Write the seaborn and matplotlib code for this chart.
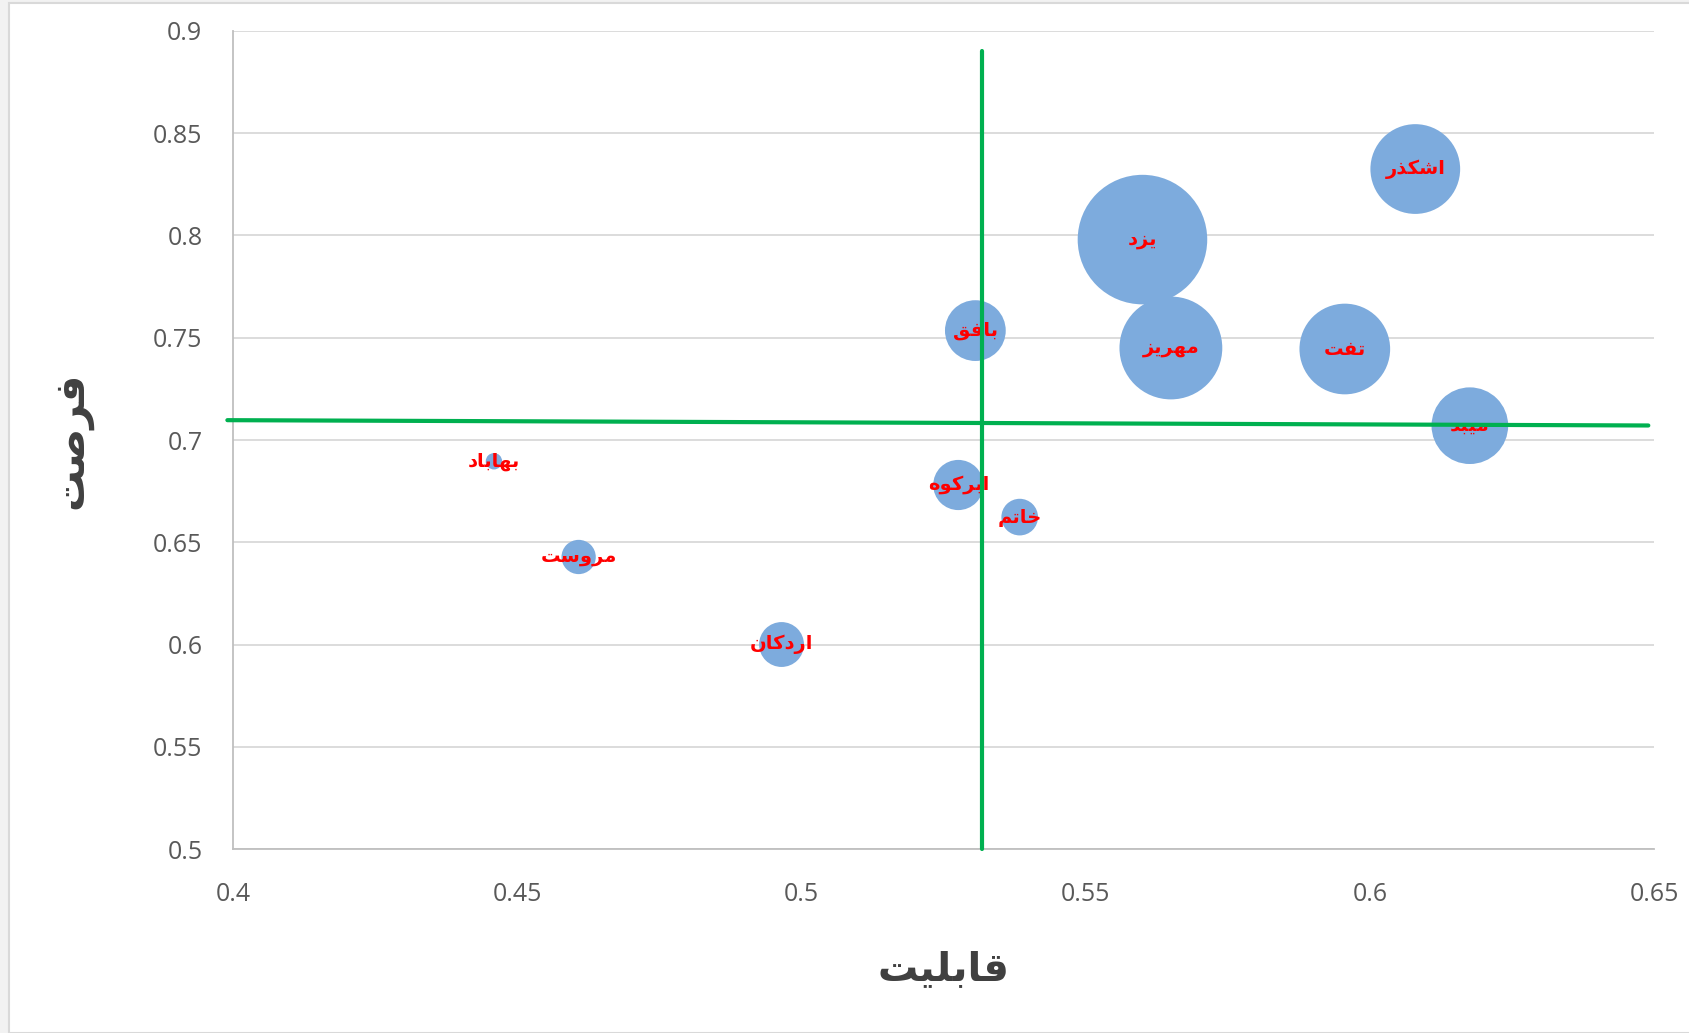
import matplotlib
matplotlib.use("Agg")
import matplotlib.pyplot as plt
import numpy as np
import pandas as pd
import seaborn as sns
from matplotlib.patches import Rectangle

# bubble data: capability (x), opportunity (y), bubble size
counties = ["یزد", "اشکذر", "مهریز", "تفت", "بافق", "میبد",
            "ابرکوه", "خاتم", "بهاباد", "مروست", "اردکان"]
capability = [0.560, 0.608, 0.565, 0.5956, 0.5306, 0.6176,
              0.5276, 0.5384, 0.4459, 0.4608, 0.4965]
opportunity = [0.798, 0.8325, 0.745, 0.7445, 0.7535, 0.707,
               0.678, 0.6623, 0.6896, 0.6428, 0.600]
bubble_size = [1.00, 0.48, 0.63, 0.49, 0.22, 0.35,
               0.15, 0.08, 0.016, 0.07, 0.12]

# green reference lines (means)
vline_x = [0.5317, 0.5317]
vline_y = [0.50, 0.89]
hline_x = [0.399, 0.649]
hline_y = [0.7097, 0.7071]

x_ticks = [0.4, 0.45, 0.5, 0.55, 0.6, 0.65]
y_ticks = [0.5, 0.55, 0.6, 0.65, 0.7, 0.75, 0.8, 0.85, 0.9]
x_title = "قابلیت"
y_title = "فرصت"

# minimal Persian shaping -> presentation forms in visual order
FORMS = {
    "ا": (0xFE8D, 0xFE8E), "د": (0xFEA9, 0xFEAA), "ذ": (0xFEAB, 0xFEAC),
    "ر": (0xFEAD, 0xFEAE), "ز": (0xFEAF, 0xFEB0), "و": (0xFEED, 0xFEEE),
    "ب": (0xFE8F, 0xFE90, 0xFE91, 0xFE92), "ت": (0xFE95, 0xFE96, 0xFE97, 0xFE98),
    "خ": (0xFEA5, 0xFEA6, 0xFEA7, 0xFEA8), "س": (0xFEB1, 0xFEB2, 0xFEB3, 0xFEB4),
    "ش": (0xFEB5, 0xFEB6, 0xFEB7, 0xFEB8), "ص": (0xFEB9, 0xFEBA, 0xFEBB, 0xFEBC),
    "ف": (0xFED1, 0xFED2, 0xFED3, 0xFED4), "ق": (0xFED5, 0xFED6, 0xFED7, 0xFED8),
    "ک": (0xFB8E, 0xFB8F, 0xFB90, 0xFB91), "ل": (0xFEDD, 0xFEDE, 0xFEDF, 0xFEE0),
    "م": (0xFEE1, 0xFEE2, 0xFEE3, 0xFEE4), "ن": (0xFEE5, 0xFEE6, 0xFEE7, 0xFEE8),
    "ه": (0xFEE9, 0xFEEA, 0xFEEB, 0xFEEC), "ی": (0xFBFC, 0xFBFD, 0xFBFE, 0xFBFF),
}


def shape(word):
    out = []
    for i, c in enumerate(word):
        prev = word[i - 1] if i > 0 else None
        nxt = word[i + 1] if i < len(word) - 1 else None
        f = FORMS[c]
        join_prev = prev is not None and len(FORMS[prev]) == 4
        join_next = len(f) == 4 and nxt is not None
        if join_prev and join_next:
            g = f[3]
        elif join_prev:
            g = f[1]
        elif join_next:
            g = f[2]
        else:
            g = f[0]
        out.append(chr(g))
    return "".join(reversed(out))


df = pd.DataFrame({"county": counties, "capability": capability,
                   "opportunity": opportunity, "size": bubble_size})

sns.set_theme(style="white")
plt.rcParams["font.family"] = ["Open Sans", "DejaVu Sans"]

fig = plt.figure(figsize=(16.9, 10.33), dpi=100, facecolor="#F2F2F2")
fig.patches.append(Rectangle((9 / 1690, 0), 1, 1 - 3 / 1033, transform=fig.transFigure,
                             facecolor="white", edgecolor="#D9D9D9", lw=1.5, zorder=-10))
ax = fig.add_axes([0.1379, 0.1781, 0.8408, 0.7919])
ax.set_facecolor("white")

sns.scatterplot(data=df, x="capability", y="opportunity", size="size",
                sizes=(0, 8700), size_norm=(0, 1.0), color="#7DABDD",
                edgecolor="none", linewidth=0, alpha=1, legend=False, ax=ax, zorder=3)

for row in df.itertuples():
    ax.text(row.capability, row.opportunity, shape(row.county), color="red",
            fontsize=14, fontweight="bold", ha="center", va="center",
            family="DejaVu Sans", zorder=4)

ax.plot(vline_x, vline_y, color="#00B050", lw=3, zorder=5, clip_on=False)
ax.plot(hline_x, hline_y, color="#00B050", lw=3, zorder=5, clip_on=False)

ax.set_xlim(0.4, 0.65)
ax.set_ylim(0.5, 0.9)
ax.set_xticks(x_ticks)
ax.set_yticks(y_ticks)
ax.set_xticklabels([f"{v:g}" for v in x_ticks])
ax.set_yticklabels([f"{v:g}" for v in y_ticks])
ax.tick_params(axis="both", length=0, labelsize=18, labelcolor="#595959")
ax.tick_params(axis="x", pad=24)
ax.tick_params(axis="y", pad=22)
ax.yaxis.grid(True, color="#D9D9D9", lw=1.3)
ax.xaxis.grid(False)
for side in ["top", "right"]:
    ax.spines[side].set_visible(False)
for side in ["left", "bottom"]:
    ax.spines[side].set_color("#BFBFBF")
    ax.spines[side].set_linewidth(1.3)

ax.set_xlabel(shape(x_title), fontsize=29, fontweight="bold", color="#404040",
              family="DejaVu Sans", labelpad=30)
ax.set_ylabel(shape(y_title), fontsize=30, fontweight="bold", color="#404040",
              family="DejaVu Sans", labelpad=44)

fig.savefig("out.png", dpi=100, facecolor=fig.get_facecolor())
